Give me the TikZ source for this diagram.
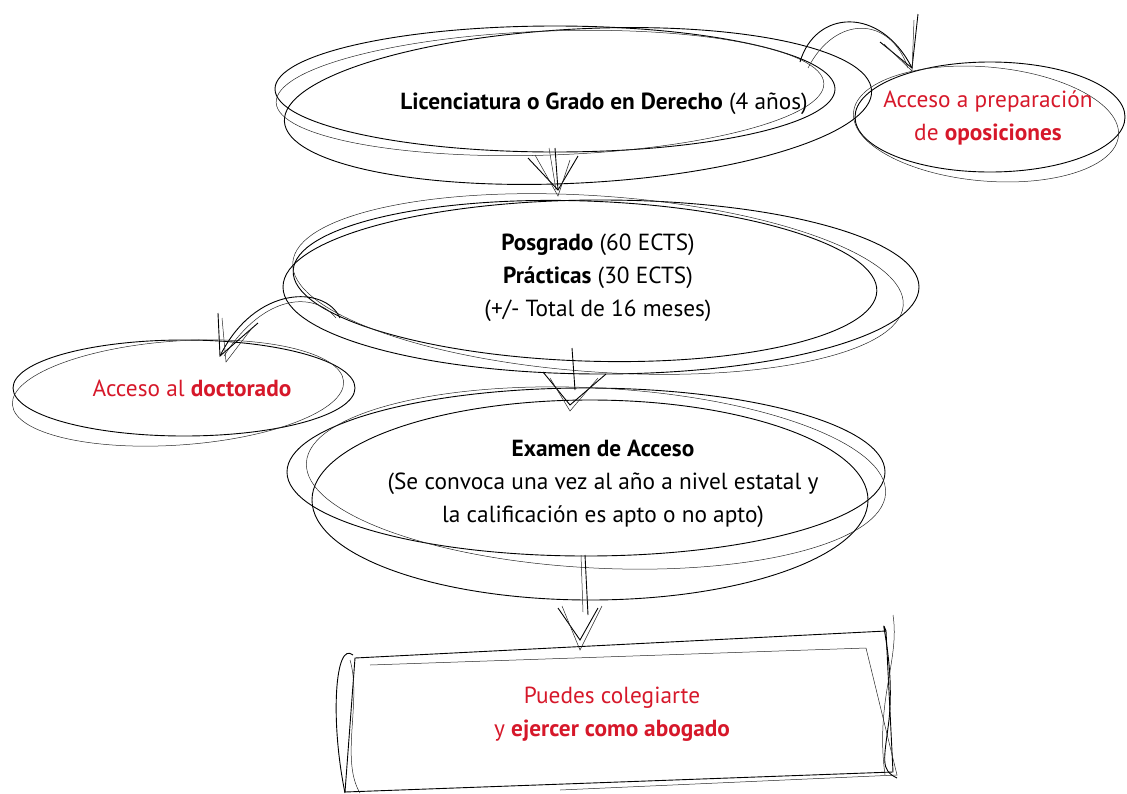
\documentclass[tikz,border=0pt]{standalone}
\usepackage{fontspec}
\setmainfont{PT Sans}
\usetikzlibrary{arrows.meta}
\definecolor{rojo}{RGB}{214,24,42}
\tikzset{
  sk/.style={draw=black, line width=0.9pt},
  skt/.style={draw=black!85, line width=0.5pt},
  txt/.style={font=\fontsize{23.3}{33}\selectfont, align=center, inner sep=0pt},
  rtxt/.style={txt, text=rojo},
}
\begin{document}
\begin{tikzpicture}[x=1pt,y=-1pt]
\useasboundingbox (0,0) rectangle (1127,793);

% ---------- Licenciatura ----------
\draw[sk] (555,89) ellipse [x radius=280, y radius=63];
\draw[sk] (578,106) ellipse [x radius=294, y radius=77, rotate=3];
\draw[skt] (550,93) ellipse [x radius=274, y radius=62, rotate=2];
\node[txt] (lic) at (604,104) {\textbf{Licenciatura o Grado en Derecho} (4 años)};

% ---------- Oposiciones ----------
\draw[sk] (990,117) ellipse [x radius=135, y radius=55];
\draw[skt] (986,124) ellipse [x radius=133, y radius=57, rotate=-5];
\node[rtxt] (opo) at (988,118) {Acceso a preparación\\de \textbf{oposiciones}};

% ---------- Posgrado ----------
\draw[sk] (601,287) ellipse [x radius=318, y radius=87];
\draw[sk] (585,281) ellipse [x radius=292, y radius=80, rotate=-2];
\draw[skt] (598,284) ellipse [x radius=306, y radius=88, rotate=-4];
\node[txt] (pos) at (598,278) {\textbf{Posgrado} (60 ECTS)\\\textbf{Prácticas} (30 ECTS)\\(+/- Total de 16 meses)};

% ---------- Doctorado ----------
\draw[sk] (184,388) ellipse [x radius=171, y radius=48];
\draw[skt] (178,393) ellipse [x radius=166, y radius=52, rotate=4];
\node[rtxt] (doc) at (192,388) {Acceso al \textbf{doctorado}};

% ---------- Examen ----------
\draw[sk] (586,472) ellipse [x radius=299, y radius=84];
\draw[sk] (590,500) ellipse [x radius=278, y radius=100];
\draw[skt] (596,478) ellipse [x radius=290, y radius=90, rotate=-3];
\node[txt] (exa) at (603,484) {\textbf{Examen de Acceso}\\(Se convoca una vez al año a nivel estatal y\\la calificación es apto o no apto)};

% ---------- Colegiarte ----------
\draw[sk] (355,658) -- (886,631) -- (893,772) -- (345,792) -- cycle;
\draw[skt] (370,665) -- (866,648) -- (897,775) -- (560,790);
\draw[sk] (353,655) .. controls (335,640) and (330,720) .. (345,793);
\draw[skt] (350,660) .. controls (362,700) and (340,760) .. (360,793);
\draw[sk] (886,631) .. controls (878,610) and (895,660) .. (889,720) .. controls (884,760) and (880,770) .. (897,778);
\draw[skt] (893,615) .. controls (900,660) and (875,700) .. (885,775);
\node[rtxt] (col) at (612,714) {Puedes colegiarte\\y \textbf{ejercer como abogado}};

% ---------- connectors ----------
\coordinate (licS) at (555,148);
\coordinate (posN) at (558,190);
\draw[sk] (licS) -- (posN);
\draw[skt] ([xshift=-6pt]licS) -- ([xshift=-2pt]posN);
\draw[sk] (528,158) -- (posN) -- (578,156);
\draw[skt] (535,155) -- ([yshift=-6pt]posN) -- (570,160);

\coordinate (licNE) at (800,62);
\coordinate (opoN) at (912,68);
\draw[sk] (licNE) .. controls (815,10) and (880,5) .. (opoN);
\draw[skt] ([xshift=8pt,yshift=-6pt]licNE) .. controls (835,15) and (890,15) .. ([xshift=-4pt]opoN);
\draw[sk] (880,42) -- (opoN) -- (918,14);
\draw[skt] (884,44) -- ([yshift=-3pt]opoN) -- (914,20);

\coordinate (posW) at (340,318);
\coordinate (docN) at (220,356);
\draw[sk] (posW) .. controls (325,285) and (255,285) .. (docN);
\draw[skt] ([xshift=-4pt]posW) .. controls (315,292) and (265,292) .. ([xshift=4pt]docN);
\draw[sk] (218,313) -- (docN) -- (258,323);
\draw[skt] (222,318) -- ([xshift=6pt,yshift=-6pt]docN) -- (252,328);

\coordinate (posS) at (572,348);
\coordinate (exaN) at (570,405);
\draw[sk] (posS) -- (575,390);
\draw[sk] (543,372) -- (exaN) -- (606,374);
\draw[skt] (550,378) -- ([yshift=-6pt]exaN) -- (598,378);

\coordinate (exaS) at (585,555);
\coordinate (colN) at (580,640);
\draw[sk] (exaS) -- (588,615);
\draw[skt] ([xshift=-4pt]exaS) -- (583,612);
\draw[sk] (558,608) -- (colN) -- (598,608);
\draw[skt] (562,606) -- ([yshift=-10pt]colN) -- (602,606);
\end{tikzpicture}
\end{document}
